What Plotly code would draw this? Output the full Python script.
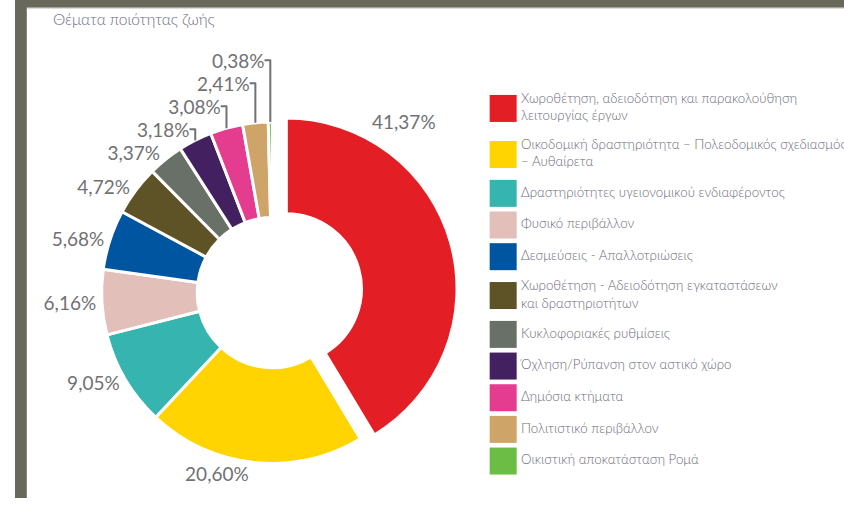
import plotly.graph_objects as go

# ---- data ----
categories = [
    "Χωροθέτηση, αδειοδότηση και παρακολούθηση<br>λειτουργίας έργων",
    "Οικοδομική δραστηριότητα – Πολεοδομικός σχεδιασμός<br>– Αυθαίρετα",
    "Δραστηριότητες υγειονομικού ενδιαφέροντος",
    "Φυσικό περιβάλλον",
    "Δεσμεύσεις - Απαλλοτριώσεις",
    "Χωροθέτηση - Αδειοδότηση εγκαταστάσεων<br>και δραστηριοτήτων",
    "Κυκλοφοριακές ρυθμίσεις",
    "Όχληση/Ρύπανση στον αστικό χώρο",
    "Δημόσια κτήματα",
    "Πολιτιστικό περιβάλλον",
    "Οικιστική αποκατάσταση Ρομά",
]
values = [41.37, 20.60, 9.05, 6.16, 5.68, 4.72, 3.37, 3.18, 3.08, 2.41, 0.38]
colors = ["#e31e24", "#ffd400", "#35b4b0", "#e2bfb9", "#0055a0", "#5e5227",
          "#687068", "#432160", "#e43c8f", "#cfa469", "#6cbd45"]
title_text = "Θέματα ποιότητας ζωής"

W, H = 844, 519
LABEL_FONT = dict(family="Lato", size=19, color="#707174", weight=400)

pct_text = [f"{v:.2f}".replace(".", ",") + "%" for v in values]
imax = values.index(max(values))
# the label of the exploded (largest) slice is placed above it, as in the source
pie_text = ["" if i == imax else t for i, t in enumerate(pct_text)]
pulls = [0.085 if i == imax else 0.0 for i in range(len(values))]

fig = go.Figure()

fig.add_trace(go.Pie(
    values=values,
    labels=[c.replace("<br>", " ") for c in categories],
    text=pie_text,
    textinfo="text",
    textposition="outside",
    outsidetextfont=LABEL_FONT,
    marker=dict(colors=colors, line=dict(color="white", width=3)),
    sort=False,
    direction="clockwise",
    rotation=0,
    hole=0.44,
    pull=pulls,
    showlegend=False,
    hovertext=pct_text,
    hoverinfo="label+text",
    domain=dict(x=[69 / W, 455 / W], y=[(H - 498) / H, (H - 112) / H]),
))

# ---- custom legend (large square swatches) ----
line_counts = [c.count("<br>") + 1 for c in categories]
heights = [33 + 15 * (n - 1) for n in line_counts]
ys = []
acc = 113 - heights[0] / 2
for h in heights:
    ys.append(acc + h / 2)
    acc += h

fig.add_trace(go.Scatter(
    x=[497] * len(categories),
    y=ys,
    mode="markers+text",
    marker=dict(symbol="square", size=27, color=colors, line=dict(width=0)),
    text=categories,
    textposition="middle right",
    textfont=dict(family="Lato", size=13.3, color="#6b6b78", weight=300),
    hoverinfo="skip",
    showlegend=False,
    xaxis="x2",
    yaxis="y2",
    cliponaxis=False,
))

fig.update_layout(
    width=W,
    height=H,
    margin=dict(l=0, r=0, t=0, b=0),
    paper_bgcolor="white",
    plot_bgcolor="rgba(0,0,0,0)",
    xaxis2=dict(domain=[0, 1], range=[0, W], visible=False, fixedrange=True),
    yaxis2=dict(domain=[0, 1], range=[H, 0], visible=False, fixedrange=True, anchor="x2"),
    annotations=[
        dict(text=title_text, xref="paper", yref="paper", x=37 / W, y=1 - 20 / H,
             xanchor="left", yanchor="middle", showarrow=False,
             font=dict(family="Lato", size=15.5, color="#6a6c80", weight=300)),
        dict(text=pct_text[imax], xref="paper", yref="paper", x=396 / W, y=1 - 127 / H,
             xanchor="center", yanchor="middle", showarrow=False, font=LABEL_FONT),
    ],
    shapes=[
        dict(type="rect", xref="paper", yref="paper", x0=0, x1=12 / W, y0=0, y1=1,
             fillcolor="#68695b", line=dict(width=0), layer="above"),
        dict(type="rect", xref="paper", yref="paper", x0=0, x1=1, y0=1 - 8 / H, y1=1,
             fillcolor="#68695b", line=dict(width=0), layer="above"),
        dict(type="line", xref="paper", yref="paper", x0=12 / W, x1=1,
             y0=1 - 8.5 / H, y1=1 - 8.5 / H,
             line=dict(color="#c9c9c0", width=1), layer="above"),
    ],
)

fig.write_html(
    "out.html",
    config={"displayModeBar": False},
    post_script="document.body.style.margin='0';document.body.style.overflow='hidden';",
)
